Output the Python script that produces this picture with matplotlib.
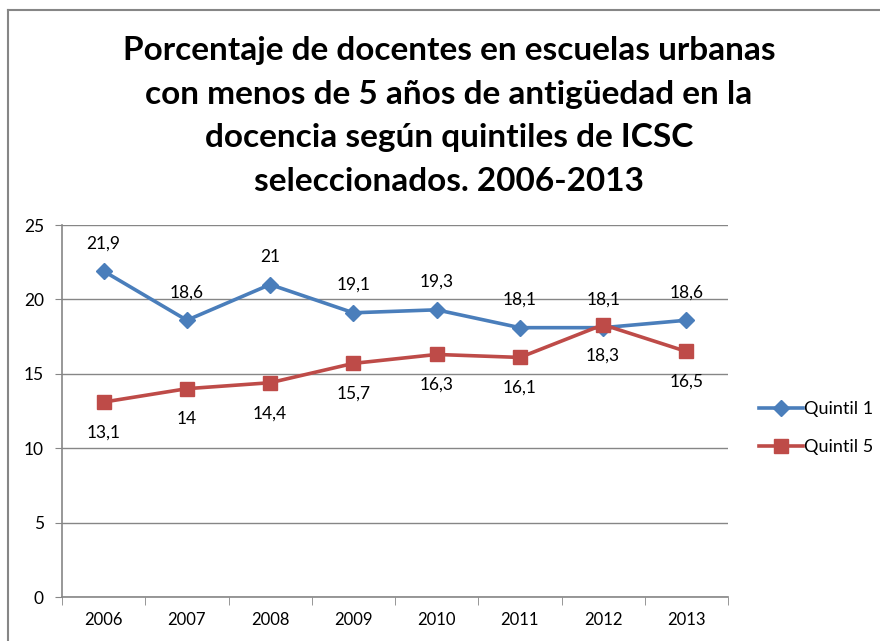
import matplotlib
matplotlib.use("Agg")
import matplotlib.pyplot as plt
from matplotlib.lines import Line2D

years = ["2006", "2007", "2008", "2009", "2010", "2011", "2012", "2013"]
quintil1 = [21.9, 18.6, 21.0, 19.1, 19.3, 18.1, 18.1, 18.6]
quintil5 = [13.1, 14.0, 14.4, 15.7, 16.3, 16.1, 18.3, 16.5]
title = ("Porcentaje de docentes en escuelas urbanas\n"
         "con menos de 5 años de antigüedad en la\n"
         "docencia según quintiles de ICSC\n"
         "seleccionados. 2006-2013")

plt.rcParams['font.family'] = ['Lato', 'DejaVu Sans']

fig = plt.figure(figsize=(8.8, 6.41), dpi=100)
ax = fig.add_axes([62/880, 1-597/641, (728-62)/880, (597-225)/641])

blue = "#4A7EBB"
red = "#BE4B48"
x = list(range(len(years)))

ax.plot(x, quintil1, color=blue, lw=2.6, marker="D", markersize=8.5, label="Quintil 1", zorder=3)
ax.plot(x, quintil5, color=red, lw=2.6, marker="s", markersize=10, label="Quintil 5", zorder=4)

def fmt(v):
    s = ("%.1f" % v).replace(".", ",")
    if s.endswith(",0"):
        s = s[:-2]
    return s

for xi, v in zip(x, quintil1):
    ax.annotate(fmt(v), (xi, v), xytext=(0, 20), textcoords="offset points",
                ha="center", va="center", fontsize=12.5, color="black", zorder=5)
for xi, v in zip(x, quintil5):
    ax.annotate(fmt(v), (xi, v), xytext=(0, -22), textcoords="offset points",
                ha="center", va="center", fontsize=12.5, color="black", zorder=5)

ax.set_xlim(-0.5, len(years) - 0.5)
ax.set_ylim(0, 25)
ax.set_yticks([0, 5, 10, 15, 20, 25])
ax.set_xticks(x)
ax.set_xticklabels(years, fontsize=12)
ax.tick_params(axis="y", labelsize=12.5, length=5, color="#868686", pad=8)
ax.tick_params(axis="x", length=0, pad=11)
ax.set_xticks([i - 0.5 for i in range(len(years) + 1)], minor=True)
ax.tick_params(axis="x", which="minor", length=6, color="#868686", direction="out")
ax.grid(axis="y", color="#868686", lw=1)
ax.set_axisbelow(True)
for s in ["top", "right"]:
    ax.spines[s].set_visible(False)
for s in ["left", "bottom"]:
    ax.spines[s].set_color("#868686")
    ax.spines[s].set_linewidth(1.2)

handles = [Line2D([0], [0], color=blue, lw=2.6, marker="D", markersize=8.5),
           Line2D([0], [0], color=red, lw=2.6, marker="s", markersize=10)]
fig.legend(handles, ["Quintil 1", "Quintil 5"], loc="center left",
           bbox_to_anchor=(752/880, 1-428/641), frameon=False, fontsize=13,
           handlelength=2.4, handletextpad=0.1, labelspacing=1.2, borderaxespad=0)

fig.text(449/880, 1-116/641, title, ha="center", va="center", fontsize=24,
         fontweight="bold", linespacing=1.6)

# outer chart border (left and top)
fig.add_artist(Line2D([8/880, 8/880], [0, 1-10/641], color="#868686", lw=1.5, transform=fig.transFigure))
fig.add_artist(Line2D([8/880, 1], [1-10/641, 1-10/641], color="#868686", lw=1.5, transform=fig.transFigure))

fig.savefig("out.png", dpi=100, facecolor="white")
